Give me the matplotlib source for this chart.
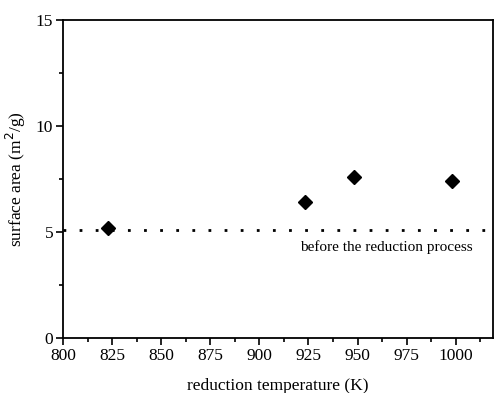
import matplotlib
matplotlib.use('Agg')
import matplotlib.pyplot as plt
from matplotlib.ticker import MultipleLocator

plt.rcParams['font.family'] = ['Liberation Serif', 'DejaVu Serif']

# data
temps = [823, 923, 948, 998]
area = [5.2, 6.4, 7.6, 7.4]
before_level = 5.1

fig = plt.figure(figsize=(4.96, 3.93), dpi=100)
ax = fig.add_axes([0.127, 0.14, 0.867, 0.808])

ax.plot(temps, area, 'D', color='black', ms=7.5)
ax.axhline(before_level, color='black', lw=2, linestyle=(0, (1, 4.8)))
ax.text(920.5, 4.3, 'before the reduction process', fontsize=11, va='center')

ax.set_xlim(800, 1019)
ax.set_ylim(0, 15)
ax.xaxis.set_major_locator(MultipleLocator(25))
ax.xaxis.set_minor_locator(MultipleLocator(12.5))
ax.yaxis.set_major_locator(MultipleLocator(5))
ax.yaxis.set_minor_locator(MultipleLocator(2.5))
ax.tick_params(which='major', direction='out', length=5, width=1.2, labelsize=12.5, pad=2)
ax.tick_params(which='minor', direction='out', length=3, width=1.2)
for s in ax.spines.values():
    s.set_linewidth(1.3)

ax.set_xlabel('reduction temperature (K)', fontsize=12.5, labelpad=10)
ax.set_ylabel('surface area (m$^2$/g)', fontsize=12.5, labelpad=6)

fig.savefig('out.png', dpi=100)
